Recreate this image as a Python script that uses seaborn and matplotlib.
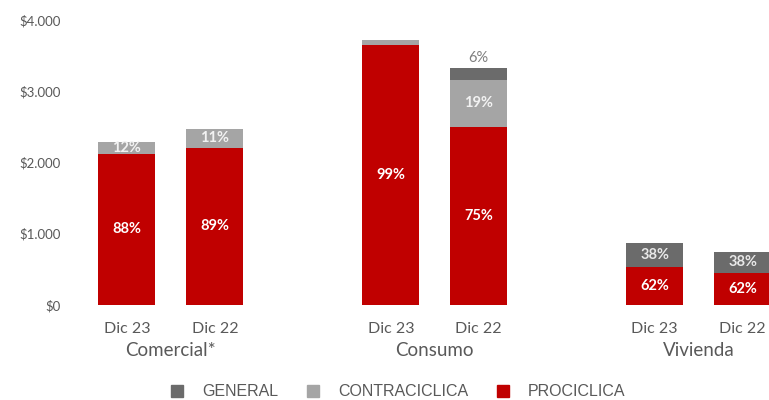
import matplotlib
matplotlib.use("Agg")
import matplotlib.pyplot as plt
from matplotlib.patches import Patch
import matplotlib.transforms as mtransforms
import seaborn as sns
import pandas as pd
import numpy as np

# ---- data ----
groups = ["Comercial*", "Consumo", "Vivienda"]
periods = ["Dic 23", "Dic 22", "Dic 23", "Dic 22", "Dic 23", "Dic 22"]
prociclica = [2120, 2205, 3650, 2505, 538, 449]
contraciclica = [170, 265, 70, 655, 0, 0]
general = [0, 0, 0, 165, 332, 295]
lbl_pro = ["88%", "89%", "99%", "75%", "62%", "62%"]
lbl_contra = ["12%", "11%", "", "19%", "", ""]
lbl_general = ["", "", "", "6%", "38%", "38%"]
yticks = [0, 1000, 2000, 3000, 4000]

C_GEN = "#6b6b6b"
C_CON = "#a5a5a5"
C_PRO = "#c00000"

sns.set_theme(style="white")
plt.rcParams["font.family"] = ["Lato", "DejaVu Sans"]

pos = [0, 1, 3, 4, 6, 7]
pro = np.array(prociclica, float)
con = np.array(contraciclica, float)
gen = np.array(general, float)
df = pd.DataFrame({"pos": pos, "pro": pro, "procon": pro + con, "total": pro + con + gen})

fig = plt.figure(figsize=(7.69, 4.0), dpi=100)
ax = fig.add_axes([75 / 769, 95 / 400, 694 / 769, 285 / 400])

w = 0.65
sns.barplot(data=df, x="pos", y="total", native_scale=True, color=C_GEN, width=w,
            saturation=1, ax=ax, linewidth=0)
sns.barplot(data=df, x="pos", y="procon", native_scale=True, color=C_CON, width=w,
            saturation=1, ax=ax, linewidth=0)
sns.barplot(data=df, x="pos", y="pro", native_scale=True, color=C_PRO, width=w,
            saturation=1, ax=ax, linewidth=0)

ax.set_xlim(-0.59, 7.30)
ax.set_ylim(0, 4000)
for s in ax.spines.values():
    s.set_visible(False)
ax.set_xlabel("")
ax.set_ylabel("")
ax.set_yticks(yticks)
ax.set_yticklabels(["$" + f"{v:,.0f}".replace(",", ".") for v in yticks],
                   fontsize=9.5, color="#595959")
ax.set_xticks(pos)
ax.set_xticklabels(periods, fontsize=11.5, color="#595959")
ax.tick_params(axis="both", length=0)
ax.tick_params(axis="x", pad=12)
ax.tick_params(axis="y", pad=10)

# segment labels
for i, p in enumerate(pos):
    if lbl_pro[i]:
        ax.text(p, pro[i] / 2, lbl_pro[i], ha="center", va="center", color="white",
                fontsize=10.5, fontweight="bold")
    if lbl_contra[i]:
        ax.text(p, pro[i] + con[i] / 2, lbl_contra[i], ha="center", va="center",
                color="#f2f2f2", fontsize=10.5, fontweight="bold")
    if lbl_general[i]:
        if gen[i] < 250:
            ax.text(p, pro[i] + con[i] + gen[i] + 40, lbl_general[i], ha="center",
                    va="bottom", color="#7f7f7f", fontsize=10.5)
        else:
            ax.text(p, pro[i] + con[i] + gen[i] / 2, lbl_general[i], ha="center",
                    va="center", color="#e8e8e8", fontsize=10.5, fontweight="bold")

# group labels
trans = mtransforms.blended_transform_factory(ax.transData, fig.transFigure)
for g, c in zip(groups, [0.5, 3.5, 6.5]):
    ax.text(c, 1 - 351 / 400, g, ha="center", va="center", fontsize=13.5,
            color="#595959", transform=trans)

handles = [Patch(color=C_GEN, label="GENERAL"), Patch(color=C_CON, label="CONTRACICLICA"),
           Patch(color=C_PRO, label="PROCICLICA")]
leg = fig.legend(handles=handles, loc="center", bbox_to_anchor=(398 / 769, 1 - 392 / 400),
                 ncol=3, frameon=False, handlelength=0.75, handleheight=0.75,
                 columnspacing=1.8, handletextpad=1.2,
                 prop={"family": "Liberation Sans", "size": 11.5})
for t in leg.get_texts():
    t.set_color("#595959")

fig.savefig("out.png", dpi=100)
